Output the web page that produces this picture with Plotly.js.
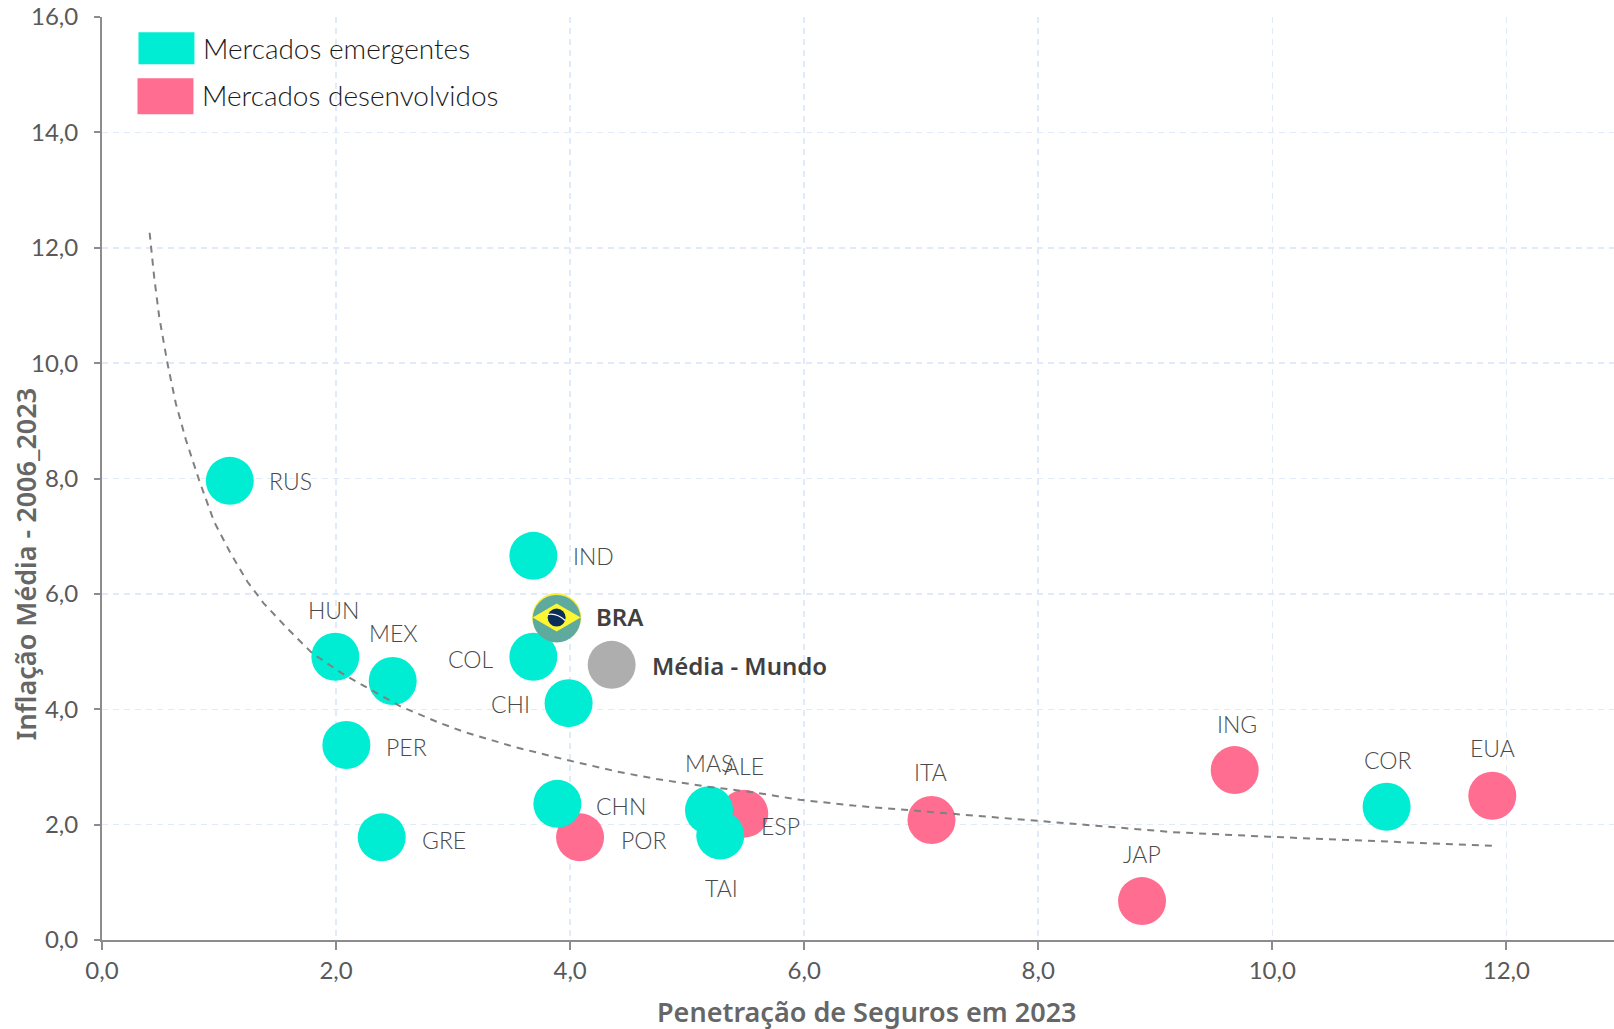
<!DOCTYPE html>
<html><head><meta charset="utf-8">
<script src="https://cdn.plot.ly/plotly-3.0.1.min.js"></script>
<style>html,body{margin:0;padding:0;background:#fff;overflow:hidden}#c{width:1614px;height:1029px}</style>
</head><body><div id="c"></div>
<script>
const devNames=["POR","ESP","ALE","ITA","JAP","ING","EUA"];
const devX=[4.085,5.3,5.488,7.088,8.887,9.679,11.88];
const devY=[1.78,1.98,2.19,2.08,0.675,2.945,2.50];
const emNames=["RUS","IND","HUN","MEX","COL","CHI","PER","GRE","CHN","MAS","TAI","COR"];
const emX=[1.092,3.686,1.994,2.484,3.686,3.987,2.088,2.39,3.891,5.187,5.283,10.977];
const emY=[7.96,6.66,4.91,4.49,4.91,4.105,3.38,1.78,2.36,2.25,1.81,2.31];
const braX=[3.885], braY=[5.59];
const worldX=[4.355], worldY=[4.77];
const trendX=[.407,.446,.489,.56,.631,.717,.83,.958,1.10,1.243,1.38,1.584,1.797,2.068,2.295,2.55,2.864,3.09,3.518,3.973,4.40,4.74,5.168,5.566,5.964,6.42,6.96,7.5,8.0,8.58,9.15,9.97,10.94,11.9];
const trendY=[12.26,11.49,10.80,9.99,9.30,8.67,7.97,7.25,6.70,6.21,5.84,5.40,4.97,4.60,4.34,4.05,3.78,3.61,3.35,3.12,2.92,2.79,2.66,2.56,2.43,2.33,2.24,2.15,2.06,1.97,1.87,1.79,1.71,1.63];
const tickVals=[0,2,4,6,8,10,12,14,16];
const xTitle="Penetração de Seguros em 2023", yTitle="Inflação Média - 2006_2023";
const legendLabels=["Mercados emergentes","Mercados desenvolvidos"];
const TEAL="#00EDD3",PINK="#FF6D90";
const F="Lato",FB="Noto Sans";
const L=101.5,W=1512.5,B=940.3,H=923.6;
function pxX(p){return (p-L)/W;} function pxY(p){return (B-p)/H;}
const shift={RUS:[61,0],HUN:[-2,-47],MEX:[1,-48],COL:[-63,2],CHI:[-58,1],PER:[60,2],GRE:[62,3],CHN:[64,2],POR:[63,3],IND:[60,0],MAS:[0,-47],ALE:[0,-48],ESP:[58,0],TAI:[1,52],ITA:[-1,-48],ING:[2,-46],COR:[1,-47],EUA:[0,-48],JAP:[0,-47]};
function lab(n,x,y){const s=shift[n];return {x,y,xref:"x",yref:"y",text:n,showarrow:false,xanchor:"center",yanchor:"middle",xshift:s[0],yshift:-s[1],font:{family:F,size:23,weight:300,color:"#4a4a4a"}};}
const anns=[];
devNames.forEach((n,i)=>anns.push(lab(n,devX[i],devY[i])));
emNames.forEach((n,i)=>anns.push(lab(n,emX[i],emY[i])));
anns.push({x:braX[0],y:braY[0],xref:"x",yref:"y",text:"BRA",showarrow:false,xanchor:"center",yanchor:"middle",xshift:63,yshift:1,font:{family:FB,size:24,weight:600,color:"#404040"}});
anns.push({x:worldX[0],y:worldY[0],xref:"x",yref:"y",text:"Média - Mundo",showarrow:false,xanchor:"center",yanchor:"middle",xshift:128,yshift:-1,font:{family:FB,size:24,weight:600,color:"#404040"}});
anns.push({xref:"paper",yref:"paper",x:pxX(867),y:pxY(1012),xanchor:"center",yanchor:"middle",text:xTitle,showarrow:false,font:{family:FB,size:27,weight:600,color:"#666"}});
anns.push({xref:"paper",yref:"paper",x:pxX(25),y:pxY(564),xanchor:"center",yanchor:"middle",text:yTitle,textangle:-90,showarrow:false,font:{family:FB,size:27,weight:600,color:"#666"}});
anns.push({xref:"paper",yref:"paper",x:pxX(201),y:pxY(47.5),xanchor:"left",yanchor:"middle",text:legendLabels[0],showarrow:false,font:{family:F,size:28,weight:300,color:"#1a1a1a"}});
anns.push({xref:"paper",yref:"paper",x:pxX(200),y:pxY(94.5),xanchor:"left",yanchor:"middle",text:legendLabels[1],showarrow:false,font:{family:F,size:28,weight:300,color:"#1a1a1a"}});
const pin={xref:"x",yref:"y",xsizemode:"pixel",ysizemode:"pixel",xanchor:braX[0],yanchor:braY[0],layer:"above"};
const shapes=[
 {type:"rect",xref:"paper",yref:"paper",x0:pxX(138),x1:pxX(194),y0:pxY(64),y1:pxY(32),fillcolor:TEAL,line:{width:0}},
 {type:"rect",xref:"paper",yref:"paper",x0:pxX(137),x1:pxX(193),y0:pxY(114),y1:pxY(78),fillcolor:PINK,line:{width:0}},
 {...pin,type:"circle",x0:-24,x1:24,y0:-25,y1:22.5,fillcolor:"#5FAA9E",line:{width:0}},
 {...pin,type:"path",path:"M -24 -1 A 24 24 0 0 1 -4 23 A 26 26 0 0 0 -24 -1 Z",fillcolor:"#93C7BE",line:{width:0}},
 {...pin,type:"path",path:"M -24 0 L 0 14 L 24 0 L 0 -14 Z",fillcolor:"#FDF632",line:{width:0}},
 {...pin,type:"circle",x0:-9,x1:9,y0:-9,y1:9,fillcolor:"#0B2D57",line:{width:0}},
 {...pin,type:"path",path:"M -9 3 Q 0 5 8.5 -3",line:{color:"#fff",width:1.2}}
];
const traces=[
 {type:"scatter",mode:"markers",x:devX,y:devY,name:"Mercados desenvolvidos",marker:{size:48,color:PINK,line:{width:0}},showlegend:false,hoverinfo:"skip"},
 {type:"scatter",mode:"markers",x:emX,y:emY,name:"Mercados emergentes",marker:{size:48,color:TEAL,line:{width:0}},showlegend:false,hoverinfo:"skip"},
 {type:"scatter",mode:"markers",x:worldX,y:worldY,name:"Média - Mundo",marker:{size:48,color:"#AEAEAE",line:{width:0}},showlegend:false,hoverinfo:"skip"},
 {type:"scatter",mode:"markers",x:braX,y:braY,name:"BRA",marker:{size:49,color:"#F8EE3B",line:{width:0}},showlegend:false,hoverinfo:"skip"},
 {type:"scatter",mode:"lines",x:trendX,y:trendY,name:"Tendência",line:{color:"#808080",width:2,dash:"7px,6px"},showlegend:false,hoverinfo:"skip"}
];
const axisBase={tickmode:"array",tickvals:tickVals,tickformat:".1f",showline:true,linecolor:"#8c8c8c",linewidth:2,ticks:"outside",tickcolor:"#8c8c8c",tickwidth:2,
 showgrid:true,gridcolor:"#E0EAF8",griddash:"6px,5px",gridwidth:1.5,zeroline:false,tickfont:{family:F,size:24,color:"#595959"}};
const layout={width:1614,height:1029,margin:{l:L,r:0,t:16.7,b:88.7},paper_bgcolor:"#fff",plot_bgcolor:"#fff",separators:",.",showlegend:false,
 xaxis:{...axisBase,range:[0,12.92],ticklen:8,ticklabelstandoff:0},
 yaxis:{...axisBase,range:[0,16],ticklen:6,ticklabelstandoff:11},
 shapes,annotations:anns};
Plotly.newPlot("c",traces,layout,{displayModeBar:false,staticPlot:true});
</script></body></html>
